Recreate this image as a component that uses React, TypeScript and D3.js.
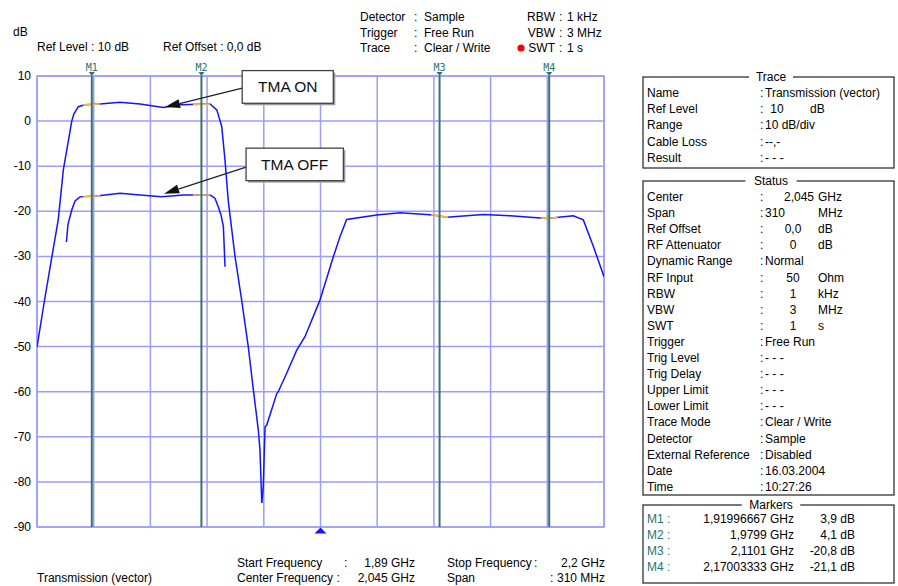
import React from 'react';
import * as d3 from 'd3';

// ---- data ----
const freqOn = [1.8900, 1.8940, 1.8980, 1.9016, 1.9044, 1.9090, 1.9102, 1.9126, 1.9162, 1.9244, 1.9354, 1.9463, 1.9591, 1.9682, 1.9846, 1.9883, 1.9910, 1.9928, 1.9946, 1.9983, 2.0019, 2.0055, 2.0083, 2.0110, 2.0119, 2.0129, 2.0137, 2.0147, 2.0156, 2.0211, 2.0219, 2.0265, 2.0320, 2.0365, 2.0447, 2.0520, 2.0557, 2.0593, 2.0757, 2.0885, 2.1067, 2.1140, 2.1340, 2.1486, 2.1687, 2.1832, 2.1887, 2.1942, 2.2000];
const dbOn = [-50.1, -40.0, -30.4, -21.9, -10.8, 0.0, 1.6, 3.2, 3.6, 3.8, 4.2, 3.8, 3.0, 3.6, 3.8, 2.5, -1.2, -8.7, -17.8, -30.1, -39.7, -50.0, -59.6, -68.5, -72.9, -84.7, -81.1, -67.8, -67.4, -60.4, -60.0, -55.9, -50.8, -47.8, -39.7, -30.1, -25.6, -21.8, -20.8, -20.3, -20.8, -21.3, -20.7, -21.0, -21.6, -21.0, -21.9, -27.8, -34.5];

const freqOff = [1.9061, 1.9069, 1.9090, 1.9108, 1.9135, 1.9226, 1.9354, 1.9463, 1.9582, 1.9700, 1.9846, 1.9873, 1.9891, 1.9906, 1.9919, 1.9928];
const dbOff = [-26.8, -23.0, -19.7, -17.7, -16.8, -16.6, -16.0, -16.4, -16.8, -16.4, -16.4, -17.1, -19.0, -20.8, -23.4, -32.3];

const yTicks = [10, 0, -10, -20, -30, -40, -50, -60, -70, -80, -90];
const startFreq = 1.89;
const stopFreq = 2.2;
const centerFreq = 2.045;
const gridDivs = [0, 1, 2, 3, 4, 5, 6, 7, 8, 9, 10];

const markerNames = ['M1', 'M2', 'M3', 'M4'];
const markerFreqs = [1.91996667, 1.9799, 2.1101, 2.17003333];
const markerFreqText = ['1,91996667 GHz', '1,9799 GHz', '2,1101 GHz', '2,17003333 GHz'];
const markerLevelText = ['3,9 dB', '4,1 dB', '-20,8 dB', '-21,1 dB'];

const annoLabels = ['TMA ON', 'TMA OFF'];
const annoBoxFreq = [[2.0022, 2.0520], [2.0043, 2.0575]];
const annoBoxDb = [[11.2, 3.95], [-6.0, -13.2]];
const annoTail = [[2.0022, 7.3], [2.0043, -10.2]];
const annoHead = [[1.9600, 3.1], [1.9595, -16.1]];

const traceLabels = ['Name', 'Ref Level', 'Range', 'Cable Loss', 'Result'];
const traceValues = ['Transmission (vector)', '10', '10 dB/div', '--,-', '- - -'];
const traceUnits = ['', 'dB', '', '', ''];
const traceAlign = ['left', 'ref', 'left', 'left', 'left'];

const statusLabels = ['Center', 'Span', 'Ref Offset', 'RF Attenuator', 'Dynamic Range', 'RF Input', 'RBW', 'VBW', 'SWT', 'Trigger', 'Trig Level', 'Trig Delay', 'Upper Limit', 'Lower Limit', 'Trace Mode', 'Detector', 'External Reference', 'Date', 'Time'];
const statusValues = ['2,045', '310', '0,0', '0', 'Normal', '50', '1', '3', '1', 'Free Run', '- - -', '- - -', '- - -', '- - -', 'Clear / Write', 'Sample', 'Disabled', '16.03.2004', '10:27:26'];
const statusUnits = ['GHz', 'MHz', 'dB', 'dB', '', 'Ohm', 'kHz', 'MHz', 's', '', '', '', '', '', '', '', '', '', ''];
const statusAlign = ['right', 'left', 'center', 'center', 'left', 'center', 'center', 'center', 'center', 'left', 'left', 'left', 'left', 'left', 'left', 'left', 'left', 'left', 'left'];

const headerLeftLabels = ['Detector', 'Trigger', 'Trace'];
const headerLeftValues = ['Sample', 'Free Run', 'Clear / Write'];
const headerRightLabels = ['RBW', 'VBW', 'SWT'];
const headerRightValues = ['1 kHz', '3 MHz', '1 s'];

const FONT = '"Liberation Sans", Arial, sans-serif';

export default function App() {
  const x = d3.scaleLinear().domain([startFreq, stopFreq]).range([37, 604]);
  const y = d3.scaleLinear().domain([-90, 10]).range([527, 76]);

  const lineOn = d3.line<number>().x((d, i) => x(freqOn[i])).y((d) => y(d));
  const lineOff = d3.line<number>().x((d, i) => x(freqOff[i])).y((d) => y(d));
  const pOn = lineOn(dbOn) || '';
  const pOff = lineOff(dbOff) || '';

  const gridColor = '#9c9cff';
  const markerColor = '#3d6f6f';
  const tealText = '#2b7272';

  const boxX0 = 643;
  const boxX1 = 894;
  const titleX = 771;

  const groupBox = (title: string, y0: number, y1: number) => (
    <g>
      <rect x={boxX0} y={y0} width={boxX1 - boxX0} height={y1 - y0} fill="none" stroke="#222" strokeWidth={1.2} />
      <rect x={titleX - title.length * 3.6 - 4} y={y0 - 7} width={title.length * 7.2 + 8} height={12} fill="#fff" />
      <text x={titleX} y={y0 + 4} textAnchor="middle" fontSize={12} fontFamily={FONT}>{title}</text>
    </g>
  );

  const valX = (align: string) => (align === 'right' ? 814 : align === 'center' ? 793 : align === 'ref' ? 777 : 765);
  const valAnchor = (align: string) => (align === 'right' ? 'end' : align === 'center' || align === 'ref' ? 'middle' : 'start');

  const gridStep = (stopFreq - startFreq) / 10;

  return (
    <svg width={898} height={586} style={{ position: 'absolute', left: 0, top: 0, background: '#fff' }} fontFamily={FONT}>
      <defs>
        <clipPath id="mkclip">
          {markerFreqs.map((f, i) => (
            <rect key={i} x={x(f) - 8.5} y={60} width={17} height={480} />
          ))}
        </clipPath>
        <clipPath id="plotclip">
          <rect x={37} y={76} width={567} height={451} />
        </clipPath>
      </defs>

      {/* header */}
      <text x={13} y={36} fontSize={12}>dB</text>
      <text x={37} y={51} fontSize={12}>Ref Level : 10 dB</text>
      <text x={163} y={51} fontSize={12}>Ref Offset : 0,0 dB</text>
      {headerLeftLabels.map((l, i) => (
        <g key={l}>
          <text x={360} y={21 + i * 15.5} fontSize={12}>{l}</text>
          <text x={414} y={21 + i * 15.5} fontSize={12}>:</text>
          <text x={424} y={21 + i * 15.5} fontSize={12}>{headerLeftValues[i]}</text>
        </g>
      ))}
      {headerRightLabels.map((l, i) => (
        <g key={l}>
          <text x={555} y={21 + i * 15.5} fontSize={12} textAnchor="end">{l}</text>
          <text x={559} y={21 + i * 15.5} fontSize={12}>:</text>
          <text x={567} y={21 + i * 15.5} fontSize={12}>{headerRightValues[i]}</text>
        </g>
      ))}
      <circle cx={521} cy={48} r={3.6} fill="#ff0000" />

      {/* grid */}
      <rect x={37} y={76} width={567} height={451} fill="#fff" stroke={gridColor} strokeWidth={1.5} />
      {gridDivs.map((i) => (
        <line key={'v' + i} x1={x(startFreq + i * gridStep)} x2={x(startFreq + i * gridStep)} y1={76} y2={527} stroke={gridColor} strokeWidth={1.5} />
      ))}
      {yTicks.map((t) => (
        <line key={'h' + t} x1={37} x2={604} y1={y(t)} y2={y(t)} stroke={gridColor} strokeWidth={1.5} />
      ))}
      {yTicks.map((t) => (
        <text key={'t' + t} x={31} y={y(t) + 4} fontSize={12} textAnchor="end">{t}</text>
      ))}

      {/* traces */}
      <g clipPath="url(#plotclip)">
        <path d={pOn} fill="none" stroke="#1414ff" strokeWidth={1.5} />
        <path d={pOff} fill="none" stroke="#1414ff" strokeWidth={1.5} />
        <g clipPath="url(#mkclip)">
          <path d={pOn} fill="none" stroke="#f7b84a" strokeWidth={1.6} />
          <path d={pOff} fill="none" stroke="#f7b84a" strokeWidth={1.6} />
        </g>
      </g>

      {/* markers */}
      {markerFreqs.map((f, i) => (
        <g key={markerNames[i]}>
          <line x1={x(f)} x2={x(f)} y1={76} y2={527} stroke={markerColor} strokeWidth={2} />
          <text x={x(f)} y={71} fontSize={10} textAnchor="middle" fill={tealText} fontFamily='"DejaVu Sans Mono", monospace'>{markerNames[i]}</text>
          <path d={`M${x(f) - 3},72 L${x(f) + 3},72 L${x(f)},76 Z`} fill={tealText} />
        </g>
      ))}

      {/* center marker */}
      <path d={`M${x(centerFreq) - 6},533.5 L${x(centerFreq) + 6},533.5 L${x(centerFreq)},527.5 Z`} fill="#1414ff" />

      {/* annotations */}
      {annoLabels.map((lab, i) => {
        const bx0 = x(annoBoxFreq[i][0]);
        const bx1 = x(annoBoxFreq[i][1]);
        const by0 = y(annoBoxDb[i][0]);
        const by1 = y(annoBoxDb[i][1]);
        const tx = x(annoTail[i][0]);
        const ty = y(annoTail[i][1]);
        const hx = x(annoHead[i][0]);
        const hy = y(annoHead[i][1]);
        const ang = Math.atan2(hy - ty, hx - tx);
        const L = 15, W = 4.5;
        const bxp = hx - L * Math.cos(ang);
        const byp = hy - L * Math.sin(ang);
        const p1 = [bxp + W * Math.sin(ang), byp - W * Math.cos(ang)];
        const p2 = [bxp - W * Math.sin(ang), byp + W * Math.cos(ang)];
        return (
          <g key={lab}>
            <line x1={tx} y1={ty} x2={bxp} y2={byp} stroke="#222" strokeWidth={1.3} />
            <path d={`M${hx},${hy} L${p1[0]},${p1[1]} L${p2[0]},${p2[1]} Z`} fill="#111" />
            <rect x={bx0 + 2} y={by0 + 2} width={bx1 - bx0} height={by1 - by0} fill="#9a9a9a" />
            <rect x={bx0} y={by0} width={bx1 - bx0} height={by1 - by0} fill="#fff" stroke="#444" strokeWidth={1.3} />
            <text x={(bx0 + bx1) / 2} y={(by0 + by1) / 2 + 5.5} fontSize={15.5} textAnchor="middle" fill="#111">{lab}</text>
          </g>
        );
      })}

      {/* bottom */}
      <text x={37} y={582} fontSize={12}>Transmission (vector)</text>
      <text x={237} y={567} fontSize={12}>Start Frequency</text>
      <text x={344} y={567} fontSize={12}>:</text>
      <text x={415} y={567} fontSize={12} textAnchor="end">1,89 GHz</text>
      <text x={237} y={582} fontSize={12}>Center Frequency :</text>
      <text x={415} y={582} fontSize={12} textAnchor="end">2,045 GHz</text>
      <text x={447} y={567} fontSize={12}>Stop Frequency</text>
      <text x={534} y={567} fontSize={12}>:</text>
      <text x={605} y={567} fontSize={12} textAnchor="end">2,2 GHz</text>
      <text x={447} y={582} fontSize={12}>Span</text>
      <text x={550} y={582} fontSize={12}>:</text>
      <text x={605} y={582} fontSize={12} textAnchor="end">310 MHz</text>

      {/* right panel */}
      {groupBox('Trace', 77, 168)}
      {traceLabels.map((l, i) => (
        <g key={l}>
          <text x={647} y={97 + i * 16.2} fontSize={12}>{l}</text>
          <text x={760} y={97 + i * 16.2} fontSize={12}>:</text>
          <text x={valX(traceAlign[i])} y={97 + i * 16.2} fontSize={12} textAnchor={valAnchor(traceAlign[i])}>{traceValues[i]}</text>
          {traceUnits[i] && <text x={810} y={97 + i * 16.2} fontSize={12}>{traceUnits[i]}</text>}
        </g>
      ))}

      {groupBox('Status', 181, 495)}
      {statusLabels.map((l, i) => (
        <g key={l}>
          <text x={647} y={201 + i * 16.1} fontSize={12}>{l}</text>
          <text x={760} y={201 + i * 16.1} fontSize={12}>:</text>
          <text x={valX(statusAlign[i])} y={201 + i * 16.1} fontSize={12} textAnchor={valAnchor(statusAlign[i])}>{statusValues[i]}</text>
          {statusUnits[i] && <text x={818} y={201 + i * 16.1} fontSize={12}>{statusUnits[i]}</text>}
        </g>
      ))}

      {groupBox('Markers', 505, 583)}
      {markerNames.map((m, i) => (
        <g key={m}>
          <text x={647} y={523 + i * 16} fontSize={12} fill={tealText}>{m} :</text>
          <text x={794} y={523 + i * 16} fontSize={12} textAnchor="end">{markerFreqText[i]}</text>
          <text x={855} y={523 + i * 16} fontSize={12} textAnchor="end">{markerLevelText[i]}</text>
        </g>
      ))}
    </svg>
  );
}
